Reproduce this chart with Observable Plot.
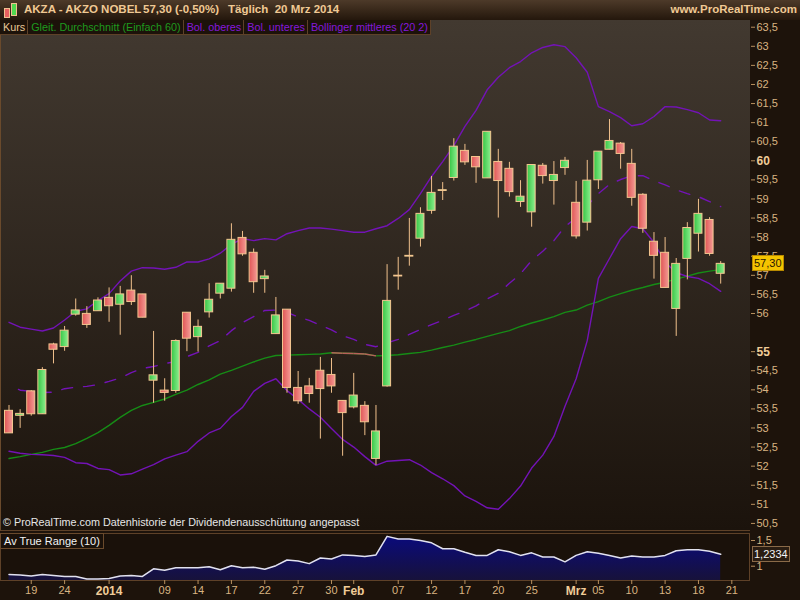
<!DOCTYPE html>
<html><head><meta charset="utf-8">
<script src="https://cdn.jsdelivr.net/npm/d3@7"></script>
<script src="https://cdn.jsdelivr.net/npm/@observablehq/plot@0.6"></script>
<style>
html,body{margin:0;padding:0;background:#1d130b;}
#wrap{position:relative;width:800px;height:600px;overflow:hidden;font-family:"Liberation Sans",Arial,sans-serif;background:#1d130b;}
#header{position:absolute;left:0;top:0;width:800px;height:20px;background:linear-gradient(#4d3a29,#24170c);color:#f0c994;font-weight:bold;font-size:11.5px;}
#header span{position:absolute;top:3px;white-space:pre;}
#panel{position:absolute;left:0;top:20px;width:749px;height:510px;background:linear-gradient(#423930,#1b130c);border-left:1px solid #6a4a2c;border-bottom:1px solid #5e4128;}
#legend{position:absolute;left:0;top:20px;height:14px;display:flex;font-size:10.8px;background:#1c120a;border-bottom:1px solid #5e4128;}
#legend div{padding:0 2px 0 3px;border-right:1px solid #5e4128;line-height:14px;white-space:pre;}
#atrpanel{position:absolute;left:0;top:533px;width:748px;height:46px;background:#1a110a;border:1px solid #5e4128;}
#atrlabel{position:absolute;left:0;top:533px;height:14px;padding:0 3px;border:1px solid #6a4a2c;color:#f2f2f2;font-size:11px;line-height:14px;background:#1a110a;}
#caption{position:absolute;left:3px;top:516px;color:#e6e6e6;font-size:10.8px;}
.svgbox{position:absolute;left:0;}
.tag{position:absolute;font-size:11px;line-height:14px;padding:0 1px;}
</style></head>
<body>
<svg width="0" height="0" style="position:absolute">
<defs>
<linearGradient id="gUp" x1="0" y1="0" x2="1" y2="0"><stop offset="0" stop-color="#36c646"/><stop offset="1" stop-color="#8eee8e"/></linearGradient>
<linearGradient id="gDn" x1="0" y1="0" x2="1" y2="0"><stop offset="0" stop-color="#e05656"/><stop offset="1" stop-color="#f39a94"/></linearGradient>
<linearGradient id="gAtr" x1="0" y1="0" x2="0" y2="1"><stop offset="0" stop-color="#0a0a7c"/><stop offset="1" stop-color="#17123a"/></linearGradient>
</defs></svg>
<div id="wrap">
  <div id="header">
    <div style="position:absolute;left:4px;top:8px;width:4px;height:8px;background:#e86060;border:1px solid #f0c090"></div>
    <div style="position:absolute;left:11px;top:3px;width:4px;height:11px;background:#50d850;border:1px solid #f0c090"></div>
    <span style="left:24px">AKZA - AKZO NOBEL</span>
    <span style="left:143px">57,30 (-0,50%)</span>
    <span style="left:228px">Täglich  20 Mrz 2014</span>
    <span style="right:3px">www.ProRealTime.com</span>
  </div>
  <div id="panel"></div>
  <div id="atrpanel"></div>
  <div id="main" class="svgbox" style="top:20px"></div>
  <div id="atr" class="svgbox" style="top:533px"></div>
  <div id="legend">
    <div style="color:#e8c898">Kurs</div>
    <div style="color:#1e9a1e">Gleit. Durchschnitt (Einfach 60)</div>
    <div style="color:#8418dc">Bol. oberes</div>
    <div style="color:#8418dc">Bol. unteres</div>
    <div style="color:#8418dc">Bollinger mittleres (20 2)</div>
  </div>
  <div id="caption">© ProRealTime.com Datenhistorie der Dividendenausschüttung angepasst</div>
  <div id="atrlabel">Av True Range (10)</div>
</div>
<script>
// ---- data (index 0 = 17 Dec 2013 ... index 64 = 20 Mar 2014, trading days) ----
const openP  = [53.45,53.32,53.96,53.36,55.19,55.12,55.97,55.99,56.06,56.41,56.23,56.60,56.50,54.24,53.98,53.97,56.02,55.38,56.03,56.52,56.65,57.98,57.59,56.90,55.46,56.10,54.05,54.09,54.50,54.39,53.71,53.54,53.58,52.19,54.09,56.97,57.49,57.96,58.69,59.21,59.55,60.26,60.10,59.54,59.97,59.79,58.92,58.65,59.87,59.47,59.81,58.90,58.38,59.49,60.29,60.45,59.92,59.11,57.88,57.59,56.12,57.43,58.09,58.45,57.04];
const highP  = [53.59,53.48,53.98,54.58,55.22,55.66,56.38,56.18,56.41,56.67,56.71,56.99,56.50,55.53,54.29,55.31,56.02,55.83,56.78,56.78,58.35,58.15,57.69,57.13,56.42,56.10,54.48,54.30,54.85,54.82,53.71,54.43,53.69,53.59,57.28,57.47,58.49,58.77,59.59,59.43,60.58,60.43,60.10,60.76,60.30,59.96,59.48,59.89,59.93,59.98,60.09,59.46,60.01,60.24,61.08,60.48,60.30,59.14,58.12,57.99,57.44,58.38,58.99,58.51,57.36];
const lowP   = [52.86,52.99,53.31,53.36,54.68,55.01,55.93,55.61,56.06,55.77,55.43,56.21,55.89,53.65,53.70,53.91,55.00,54.99,55.88,56.38,56.56,57.50,56.53,56.53,55.46,53.91,53.62,53.65,52.71,53.91,52.26,53.50,52.80,52.02,54.07,56.61,57.24,57.74,58.60,58.96,59.47,59.88,59.41,59.54,58.50,59.05,58.78,58.26,59.39,58.84,59.62,57.95,58.16,59.25,60.29,59.78,58.81,58.10,56.90,56.67,55.40,56.88,57.61,57.50,56.77];
const closeP = [52.86,53.37,53.36,54.52,55.05,55.55,56.08,55.70,56.34,56.19,56.50,56.30,55.89,54.38,53.92,55.28,55.34,55.65,56.36,56.78,57.93,57.55,56.82,56.97,55.95,54.05,53.70,53.89,54.02,54.09,53.39,53.85,53.15,52.91,56.33,56.99,57.51,58.61,59.16,59.23,60.37,59.96,59.83,60.76,59.47,59.18,59.06,59.89,59.60,59.63,60.00,58.02,59.48,60.24,60.52,60.18,59.03,58.22,57.51,56.67,57.30,58.24,58.61,57.56,57.30];
const bolUpper  = [55.77,55.64,55.59,55.54,55.62,55.83,56.06,56.12,56.34,56.52,56.85,57.11,57.20,57.19,57.16,57.21,57.35,57.35,57.43,57.58,57.81,57.96,57.91,57.96,57.93,58.09,58.17,58.24,58.24,58.21,58.17,58.13,58.13,58.22,58.30,58.49,58.72,59.14,59.59,59.98,60.40,60.90,61.32,61.86,62.19,62.44,62.60,62.83,62.97,63.04,62.99,62.70,62.32,61.42,61.29,61.13,60.92,60.97,61.16,61.42,61.41,61.34,61.26,61.07,61.05];
const bolLower  = [52.39,52.34,52.31,52.30,52.28,52.23,52.09,52.07,51.94,51.91,51.77,51.80,51.92,52.04,52.19,52.29,52.38,52.65,52.87,52.99,53.30,53.54,53.96,54.17,54.29,53.98,53.75,53.50,53.28,52.99,52.70,52.50,52.25,52.02,52.13,52.15,52.17,52.03,51.83,51.67,51.49,51.22,51.08,50.91,50.87,51.15,51.48,51.95,52.29,52.78,53.57,54.29,55.29,56.92,57.44,57.96,58.28,58.22,57.86,57.34,57.07,56.97,56.92,56.78,56.58];
const bolMiddle = [54.13,53.99,53.96,53.93,53.94,54.03,54.07,54.09,54.14,54.22,54.31,54.45,54.56,54.61,54.69,54.74,54.87,54.98,55.15,55.29,55.55,55.76,55.92,56.08,56.09,56.03,55.91,55.82,55.69,55.57,55.42,55.32,55.19,55.13,55.23,55.32,55.45,55.58,55.71,55.82,55.95,56.06,56.20,56.38,56.53,56.79,57.04,57.39,57.63,57.91,58.28,58.50,58.83,59.14,59.38,59.51,59.61,59.61,59.48,59.37,59.24,59.14,59.06,58.93,58.80];
const sma60     = [52.20,52.25,52.31,52.36,52.44,52.49,52.59,52.73,52.88,53.07,53.28,53.46,53.59,53.67,53.76,53.88,53.99,54.14,54.26,54.41,54.51,54.62,54.73,54.83,54.90,54.91,54.92,54.93,54.94,54.97,54.96,54.95,54.94,54.89,54.90,54.92,54.95,54.98,55.04,55.11,55.17,55.25,55.32,55.40,55.48,55.55,55.66,55.75,55.83,55.92,56.03,56.09,56.22,56.31,56.43,56.52,56.61,56.68,56.76,56.82,56.90,56.98,57.06,57.11,57.15];
const atr10     = [0.84,0.83,0.81,0.84,0.82,0.80,0.80,0.75,0.75,0.76,0.81,0.82,0.80,0.95,0.92,0.97,0.97,0.97,0.99,0.93,1.01,0.97,0.98,0.94,1.01,1.12,1.10,1.05,1.16,1.14,1.22,1.21,1.19,1.22,1.58,1.53,1.53,1.50,1.455,1.34,1.34,1.27,1.21,1.21,1.32,1.28,1.21,1.26,1.18,1.18,1.085,1.21,1.28,1.25,1.21,1.16,1.20,1.18,1.18,1.21,1.30,1.32,1.32,1.29,1.2334];
const priceTicks = [50.5,51,51.5,52,52.5,53,53.5,54,54.5,56,56.5,57,57.5,58,58.5,59,59.5,60.5,61,61.5,62,62.5,63,63.5];
const priceTicksBold = [55,60];
const atrTicks = [1,1.5];
const dateTickIdx    = [2,5,9,14,17,20,23,26,29,31,35,38,41,44,47,51,53,56,59,62,65];
const dateTickLabels = ["19","24","2014","09","14","17","22","27","30","Feb","07","12","17","20","25","Mrz","05","10","13","18","21"];
const boldDateLabels = ["2014","Feb","Mrz"];
const lastClose = 57.30, lastAtr = 1.2334;

// ---- build ----
const idx = d3.range(openP.length);
const rows = idx.map(i => ({i, o: openP[i], h: highP[i], l: lowP[i], c: closeP[i]}));
const upRows = rows.filter(d => d.c >= d.o), dnRows = rows.filter(d => d.c < d.o);
const band = idx.map(i => ({i, u: bolUpper[i], lo: bolLower[i], m: bolMiddle[i], s: sma60[i]}));
const downSeg = idx.slice(0, -1).filter(i => sma60[i + 1] < sma60[i])
  .map(i => ({x1: i, y1: sma60[i], x2: i + 1, y2: sma60[i + 1]}));
const fmt = d => String(d).replace(".", ",");
const purple = "#7313b6", axisCol = "#d9b482", tickCol = "#b8905e";
const xDom = [-0.765, 66.68];
const hw = 0.36;
const font = "Liberation Sans, Arial, sans-serif";

const main = Plot.plot({
  width: 800, height: 511, marginLeft: 0, marginRight: 50, marginTop: 0, marginBottom: 0,
  style: {background: "transparent", fontFamily: font, fontSize: "11px", overflow: "visible"},
  x: {domain: xDom, axis: null, label: null},
  y: {domain: [50.236 + 2/38.17, 63.676], axis: null, label: null},
  marks: [
    Plot.line(band, {x: "i", y: "s", stroke: "#168c16", strokeWidth: 1.4}),
    Plot.link(downSeg, {x1: "x1", y1: "y1", x2: "x2", y2: "y2", stroke: "#b8605a", strokeWidth: 1.4}),
    Plot.line(band, {x: "i", y: "u", stroke: purple, strokeWidth: 1.4}),
    Plot.line(band, {x: "i", y: "lo", stroke: purple, strokeWidth: 1.4}),
    Plot.line(band, {x: "i", y: "m", stroke: purple, strokeWidth: 1.4, strokeDasharray: "11,11", strokeDashoffset: 11.5}),
    Plot.ruleX(rows, {x: "i", y1: "l", y2: "h", stroke: "#f0c08c", strokeWidth: 1}),
    Plot.rect(upRows, {x1: d => d.i - hw, x2: d => d.i + hw, y1: "o", y2: "c", fill: "url(#gUp)", stroke: "#f4c690", strokeWidth: 1}),
    Plot.rect(dnRows, {x1: d => d.i - hw, x2: d => d.i + hw, y1: "o", y2: "c", fill: "url(#gDn)", stroke: "#f4c690", strokeWidth: 1}),
    Plot.axisY(priceTicks, {anchor: "right", label: null, tickSize: 4, tickPadding: 2, stroke: tickCol, fill: axisCol, tickFormat: fmt, fontSize: 11}),
    Plot.axisY(priceTicksBold, {anchor: "right", label: null, tickSize: 4, tickPadding: 2, stroke: tickCol, fill: "#f0cc98", tickFormat: fmt, fontSize: 12, fontWeight: "bold"})
  ]
});
document.getElementById("main").appendChild(main);

const atrRows = idx.map(i => ({i, v: atr10[i]}));
const atrDom = [0.722, 1.636];
const atrPlot = Plot.plot({
  width: 800, height: 67, marginLeft: 0, marginRight: 50, marginTop: 0, marginBottom: 20,
  style: {background: "transparent", fontFamily: font, fontSize: "11px", overflow: "visible"},
  x: {domain: xDom, axis: null, label: null},
  y: {domain: atrDom, axis: null, label: null},
  marks: [
    Plot.areaY(atrRows, {x: "i", y1: () => atrDom[0], y2: "v", fill: "url(#gAtr)"}),
    Plot.lineY(atrRows, {x: "i", y: "v", stroke: "#e2e2ee", strokeWidth: 1.5}),
    Plot.axisY(atrTicks, {anchor: "right", label: null, tickSize: 4, tickPadding: 2, stroke: tickCol, fill: axisCol, tickFormat: fmt, fontSize: 11}),
    Plot.axisX(dateTickIdx.filter((t, k) => !boldDateLabels.includes(dateTickLabels[k])), {
      anchor: "bottom", label: null, tickSize: 4, tickPadding: 2, stroke: tickCol, fill: axisCol, fontSize: 11,
      tickFormat: t => dateTickLabels[dateTickIdx.indexOf(t)]}),
    Plot.axisX(dateTickIdx.filter((t, k) => boldDateLabels.includes(dateTickLabels[k])), {
      anchor: "bottom", label: null, tickSize: 4, tickPadding: 2, stroke: tickCol, fill: "#f0cc98", fontSize: 12, fontWeight: "bold",
      tickFormat: t => dateTickLabels[dateTickIdx.indexOf(t)]})
  ]
});
document.getElementById("atr").appendChild(atrPlot);

// value tags positioned through the plots' own scales
const wrap = document.getElementById("wrap");
const pTag = document.createElement("div");
pTag.className = "tag";
pTag.textContent = fmt(lastClose.toFixed(2));
const py = 20 + main.scale("y").apply(lastClose);
Object.assign(pTag.style, {left: "752px", top: (py - 8) + "px", background: "#f5c400", color: "#2a1800", border: "1px solid #b88a00"});
wrap.appendChild(pTag);
const aTag = document.createElement("div");
aTag.className = "tag";
aTag.textContent = fmt(lastAtr);
const ay = 533 + atrPlot.scale("y").apply(lastAtr);
Object.assign(aTag.style, {left: "752px", top: (ay - 8) + "px", background: "#2a1d12", color: "#f4f4f4", border: "1px solid #8a6a48"});
wrap.appendChild(aTag);
</script>
</body></html>
